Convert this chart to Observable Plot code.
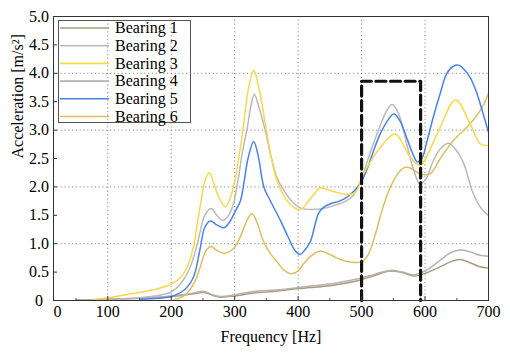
<!DOCTYPE html>
<html>
<head>
<meta charset="utf-8">
<script src="https://cdn.jsdelivr.net/npm/d3@7"></script>
<script src="https://cdn.jsdelivr.net/npm/@observablehq/plot@0.6"></script>
<style>
  html, body { margin: 0; padding: 0; background: #fff; }
  #chart { width: 510px; height: 353px; }
</style>
</head>
<body>
<div id="chart"></div>
<script>
// ---- data ----
const seriesNames = ["Bearing 1", "Bearing 2", "Bearing 3", "Bearing 4", "Bearing 5", "Bearing 6"];
const seriesColors = ["#a89c7c", "#bdb8b8", "#f8d84c", "#b8b0ac", "#4a82e8", "#dcc060"];

const b1Freq = [50, 100, 150, 200, 230, 252, 265, 277, 300, 330, 360, 401, 456, 498, 520, 545, 565, 582, 603, 625, 640, 655, 670, 685, 700];
const b1Val  = [0.01, 0.02, 0.04, 0.07, 0.11, 0.14, 0.09, 0.06, 0.08, 0.13, 0.16, 0.21, 0.27, 0.36, 0.44, 0.52, 0.49, 0.43, 0.49, 0.60, 0.68, 0.72, 0.67, 0.60, 0.57];

const b2Freq = [120, 150, 180, 200, 215, 230, 240, 245, 253, 263, 272, 282, 295, 305, 312, 320, 326, 331, 337, 348, 358, 367, 380, 390, 403, 435, 456, 475, 487, 500, 515, 530, 540, 548, 558, 571, 582, 592, 602, 613, 625, 637, 649, 661, 676, 690, 700];
const b2Val  = [0.02, 0.05, 0.09, 0.15, 0.30, 0.59, 0.95, 1.18, 1.50, 1.62, 1.50, 1.41, 1.60, 2.10, 2.60, 3.05, 3.45, 3.63, 3.45, 3.00, 2.50, 2.15, 1.90, 1.75, 1.63, 1.61, 1.67, 1.75, 1.85, 2.15, 2.65, 3.10, 3.35, 3.45, 3.30, 2.76, 2.30, 2.05, 2.15, 2.46, 2.68, 2.77, 2.65, 2.41, 1.88, 1.60, 1.50];

const b3Freq = [80, 100, 150, 180, 200, 215, 225, 235, 241, 247, 253, 260, 266, 272, 285, 293, 300, 307, 313, 322, 330, 338, 350, 358, 367, 385, 403, 420, 435, 455, 477, 490, 503, 530, 553, 577, 592, 619, 648, 671, 687, 700];
const b3Val  = [0.02, 0.05, 0.14, 0.21, 0.29, 0.41, 0.59, 0.94, 1.35, 1.75, 2.10, 2.25, 2.10, 1.90, 1.65, 1.80, 2.10, 2.55, 3.00, 3.75, 4.06, 3.75, 3.00, 2.50, 2.10, 1.72, 1.60, 1.80, 1.98, 1.92, 1.87, 1.90, 2.23, 2.70, 2.93, 2.52, 2.38, 2.93, 3.53, 3.11, 2.76, 2.73];

const b4Freq = [50, 100, 150, 200, 230, 252, 265, 277, 300, 330, 360, 401, 456, 498, 520, 545, 565, 582, 603, 625, 640, 655, 670, 685, 700];
const b4Val  = [0.01, 0.02, 0.04, 0.08, 0.12, 0.16, 0.10, 0.07, 0.10, 0.16, 0.18, 0.23, 0.30, 0.39, 0.46, 0.53, 0.50, 0.45, 0.54, 0.72, 0.84, 0.89, 0.86, 0.80, 0.78];

const b5Freq = [150, 180, 200, 220, 235, 245, 253, 262, 272, 283, 292, 300, 309, 315, 321, 330, 337, 346, 356, 372, 385, 395, 403, 410, 419, 432, 440, 450, 465, 477, 490, 500, 510, 519, 530, 540, 551, 561, 571, 580, 588, 595, 603, 613, 624, 634, 644, 654, 663, 671, 680, 687, 700];
const b5Val  = [0.02, 0.04, 0.07, 0.18, 0.41, 0.88, 1.29, 1.40, 1.33, 1.28, 1.38, 1.55, 1.75, 2.10, 2.50, 2.80, 2.55, 2.00, 1.76, 1.41, 1.10, 0.88, 0.81, 0.88, 1.03, 1.53, 1.64, 1.70, 1.75, 1.82, 1.95, 2.10, 2.35, 2.64, 2.95, 3.15, 3.29, 3.15, 2.87, 2.60, 2.44, 2.50, 2.80, 3.23, 3.65, 3.99, 4.12, 4.14, 4.05, 3.93, 3.70, 3.46, 2.96];

const b6Freq = [205, 220, 230, 238, 246, 255, 263, 272, 283, 292, 301, 310, 317, 327, 335, 345, 356, 367, 378, 390, 400, 409, 420, 435, 448, 461, 475, 490, 500, 510, 520, 530, 540, 550, 558, 570, 582, 592, 608, 624, 645, 671, 690, 700];
const b6Val  = [0.02, 0.08, 0.20, 0.35, 0.60, 0.88, 0.95, 0.88, 0.83, 0.86, 0.95, 1.15, 1.35, 1.53, 1.38, 1.05, 0.83, 0.68, 0.53, 0.47, 0.52, 0.65, 0.78, 0.87, 0.82, 0.75, 0.69, 0.67, 0.68, 0.80, 1.10, 1.50, 1.85, 2.10, 2.25, 2.35, 2.30, 2.23, 2.23, 2.50, 2.82, 3.11, 3.40, 3.65];

// highlighted band (dashed box)
const boxFreq = [500, 500, 593, 593];
const boxVal  = [0, 3.86, 3.86, 0];

// axes
const xDomain = [14.5, 700];
const yDomain = [0, 5];
const xTickValues = [21, 100, 200, 300, 400, 500, 600, 700];
const xTickLabels = ["0", "100", "200", "300", "400", "500", "600", "700"];
const xGridValues = [100, 200, 300, 400, 500, 600];
const xMinorTicks = [50, 150, 250, 350, 450, 550, 650];
const xMajorTicks = [100, 200, 300, 400, 500, 600];
const yTickValues = [0, 0.5, 1, 1.5, 2, 2.5, 3, 3.5, 4, 4.5, 5];
const yTickLabels = ["0", "0.5", "1.0", "1.5", "2.0", "2.5", "3.0", "3.5", "4.0", "4.5", "5.0"];
const yGridValues = [1, 2, 3, 4];
const xTitle = "Frequency [Hz]";
const yTitle = "Acceleration [m/s²]";

// ---- build table ----
const allFreq = [b1Freq, b2Freq, b3Freq, b4Freq, b5Freq, b6Freq];
const allVal = [b1Val, b2Val, b3Val, b4Val, b5Val, b6Val];
const rows = [];
seriesNames.forEach((s, k) => {
  allFreq[k].forEach((f, i) => rows.push({series: s, f, v: allVal[k][i]}));
});
const boxRows = boxFreq.map((f, i) => ({f, v: boxVal[i]}));
const xLabelMap = new Map(xTickValues.map((d, i) => [d, xTickLabels[i]]));
const yLabelMap = new Map(yTickValues.map((d, i) => [d, yTickLabels[i]]));

// draw order: low curves first, then others
const drawOrder = ["Bearing 1", "Bearing 4", "Bearing 6", "Bearing 2", "Bearing 5", "Bearing 3"];
const sorted = drawOrder.flatMap(s => rows.filter(r => r.series === s));

const font = "'Liberation Serif', 'Times New Roman', serif";
const gridStyle = {stroke: "#8a8a8a", strokeOpacity: 1, strokeWidth: 1, strokeDasharray: "1.2,2.6"};

const svg = Plot.plot({
  width: 510,
  height: 353,
  marginLeft: 53,
  marginRight: 22,
  marginTop: 16,
  marginBottom: 53,
  style: {fontFamily: font, fontSize: "16px", background: "#fff", color: "#000"},
  x: {domain: xDomain},
  y: {domain: yDomain},
  color: {domain: seriesNames, range: seriesColors},
  marks: [
    Plot.gridX(xGridValues, gridStyle),
    Plot.gridY(yGridValues, gridStyle),
    Plot.line(sorted, {x: "f", y: "v", z: "series", stroke: "series", curve: "catmull-rom", strokeWidth: 1.5}),
    Plot.line(boxRows, {x: "f", y: "v", stroke: "#111", strokeWidth: 3.2, strokeDasharray: "10,4.6", strokeLinejoin: "round"}),
    Plot.frame({stroke: "#333", strokeWidth: 1}),
    Plot.axisX(xTickValues, {tickSize: 0, tickPadding: 5, tickFormat: d => xLabelMap.get(d), label: null, fontSize: 16, fill: "#000"}),
    Plot.axisX(xMajorTicks, {tickSize: -4, tickFormat: () => "", label: null, stroke: "#333"}),
    Plot.axisX(xMinorTicks, {tickSize: -2, tickFormat: () => "", label: null, stroke: "#555"}),
    Plot.axisY(yTickValues, {tickSize: 0, tickPadding: 14.5, textAnchor: "middle", tickFormat: d => yLabelMap.get(d), label: null, fontSize: 16, fill: "#000"}),
    Plot.axisY(yTickValues, {tickSize: -4, tickFormat: () => "", label: null, stroke: "#333"}),
    Plot.text([xTitle], {frameAnchor: "bottom", dy: 36, text: d => d, fontSize: 16, lineAnchor: "middle", fill: "#000"}),
    Plot.text([yTitle], {frameAnchor: "left", dx: -36, rotate: -90, text: d => d, fontSize: 16, lineAnchor: "middle", fill: "#000"})
  ]
});

// ---- legend ----
const lg = d3.select(svg).append("g").attr("font-family", font).attr("font-size", 16).attr("text-anchor", "start");
lg.append("rect")
  .attr("x", 58.5).attr("y", 20.5).attr("width", 132).attr("height", 102)
  .attr("fill", "none").attr("stroke", "#555").attr("stroke-width", 1);
seriesNames.forEach((s, i) => {
  const y = 28 + i * 17.7;
  lg.append("line").attr("x1", 60).attr("x2", 109).attr("y1", y).attr("y2", y)
    .attr("stroke", seriesColors[i]).attr("stroke-width", 1.6);
  lg.append("text").attr("x", 115).attr("y", y).attr("dy", "0.32em")
    .attr("text-anchor", "start").attr("fill", "#000").text(s);
});

document.getElementById("chart").appendChild(svg);
</script>
</body>
</html>
